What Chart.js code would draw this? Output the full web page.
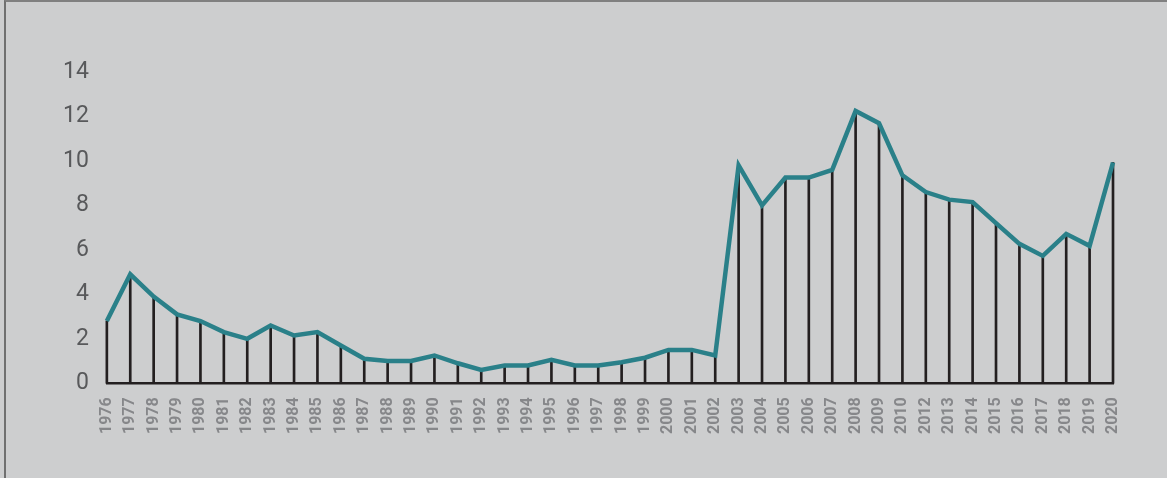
<!DOCTYPE html>
<html>
<head>
<meta charset="utf-8">
<script src="https://cdn.jsdelivr.net/npm/chart.js@4/dist/chart.umd.min.js"></script>
<style>
  html, body { margin: 0; padding: 0; background: #cdcecf; }
  #wrap { position: absolute; left: 0; top: 0; width: 1167px; height: 478px; background: #cdcecf; }
  #frame { position: absolute; left: 4px; top: 0; width: 1163px; height: 478px;
           border-left: 2px solid #707070; border-top: 2px solid #808080; box-sizing: border-box; pointer-events: none; }
  canvas { position: absolute; left: 0; top: 0; }
</style>
</head>
<body>
<div id="wrap">
  <canvas id="c" width="1167" height="478"></canvas>
  <div id="frame"></div>
</div>
<script>
const years = ["1976","1977","1978","1979","1980","1981","1982","1983","1984","1985",
  "1986","1987","1988","1989","1990","1991","1992","1993","1994","1995",
  "1996","1997","1998","1999","2000","2001","2002","2003","2004","2005",
  "2006","2007","2008","2009","2010","2012","2013","2014","2015","2016",
  "2017","2018","2019","2020"];
const values = [2.8,4.9,3.9,3.1,2.8,2.3,2.0,2.6,2.15,2.3,
  1.7,1.1,1.0,1.0,1.25,0.9,0.6,0.8,0.8,1.05,
  0.8,0.8,0.95,1.15,1.5,1.5,1.25,9.8,8.0,9.25,
  9.25,9.6,12.25,11.7,9.35,8.6,8.26,8.15,7.2,6.27,
  5.73,6.72,6.18,9.93];
const yMin = 0, yMax = 14, yStep = 2;

new Chart(document.getElementById('c'), {
  data: {
    labels: years,
    datasets: [
      {
        type: 'line',
        data: values,
        borderColor: '#2a8089',
        borderWidth: 4.5,
        pointRadius: 0,
        tension: 0,
        borderJoinStyle: 'miter',
        fill: false,
        clip: false,
        order: 0
      },
      {
        type: 'bar',
        data: values,
        backgroundColor: '#231f20',
        barThickness: 2,
        clip: false,
        order: 1
      }
    ]
  },
  options: {
    responsive: false,
    animation: false,
    devicePixelRatio: 1,
    layout: { padding: { left: 45, right: 54, top: 72, bottom: 30 } },
    plugins: { legend: { display: false }, tooltip: { enabled: false } },
    scales: {
      x: {
        type: 'category',
        offset: false,
        grid: { display: false, drawTicks: false },
        border: { display: true, color: '#231f20', width: 2.5 },
        ticks: {
          autoSkip: false,
          minRotation: 90,
          maxRotation: 90,
          padding: 14,
          color: '#86878a',
          font: { family: 'Roboto', size: 16, weight: 'bold' }
        }
      },
      y: {
        min: yMin,
        max: yMax,
        grid: { display: false, drawTicks: false },
        border: { display: false },
        ticks: {
          stepSize: yStep,
          padding: 18,
          color: '#58595b',
          font: { family: 'Roboto', size: 23 }
        }
      }
    }
  }
});
</script>
</body>
</html>
